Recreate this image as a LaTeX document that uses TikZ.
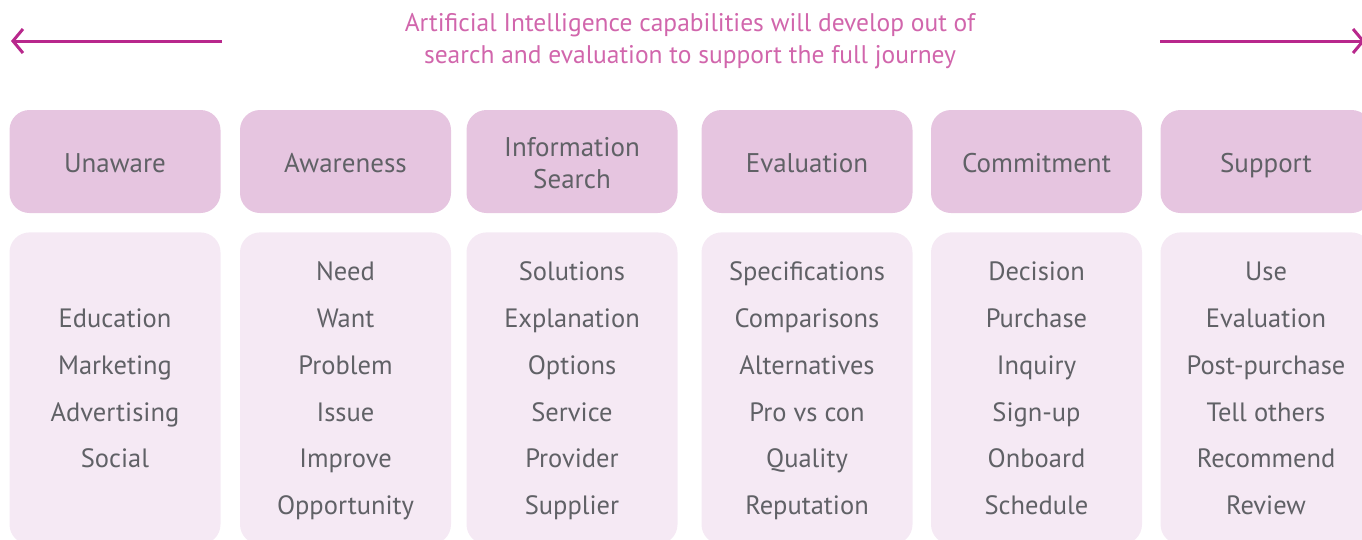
\documentclass[tikz,border=0pt]{standalone}
\usepackage{fontspec}
\setmainfont{PT Sans}
\usetikzlibrary{positioning}
\usetikzlibrary{arrows.meta}
\definecolor{aiarrow}{HTML}{B8288C}
\definecolor{aicaption}{HTML}{D166AC}
\definecolor{headfill}{HTML}{E6C5E0}
\definecolor{bodyfill}{HTML}{F5E9F4}
\definecolor{stagegray}{HTML}{606166}
\newcommand{\stagetitle}[1]{\raisebox{0pt}[\dimexpr\height+9pt\relax][\depth]{\begin{tabular}{@{}c@{}}#1\end{tabular}}}
\newcommand{\stagelist}[1]{\begin{tabular}{@{}c@{}}#1\end{tabular}}
\tikzset{
	stagehead/.style={fill=headfill, rounded corners=20pt, minimum width=211pt, minimum height=103pt,
		text=stagegray, font=\fontsize{27}{32}\selectfont},
	stagebody/.style={fill=bodyfill, rounded corners=20pt, minimum width=211pt, minimum height=312pt,
		text=stagegray, font=\fontsize{26.5}{46.8}\selectfont},
	journey/.style={draw=aiarrow, line width=3pt, -{Straight Barb[length=10pt,width=24pt,line width=3pt]}},
}

\begin{document}
\begin{tikzpicture}[x=1pt, y=-1pt]
		\useasboundingbox (0,0) rectangle (1362,539);
		\node[text=aicaption, align=center, font=\fontsize{25.5}{32}\selectfont] (caption) at (690,41)
			{Artificial Intelligence capabilities will develop out of\\search and evaluation to support the full journey};
		\coordinate (leftstart) at (222,41);
		\coordinate (leftend) at (11,41);
		\coordinate (rightstart) at (1160,41);
		\coordinate (rightend) at (1365,41);
		\draw[journey] (leftstart) -- (leftend);
		\draw[journey] (rightstart) -- (rightend);

		\node[stagehead] (unaware) at (115,161.5) {\stagetitle{Unaware}};
		\node[stagehead] (awareness) at (345.5,161.5) {\stagetitle{Awareness}};
		\node[stagehead] (search) at (572,161.5) {\stagetitle{Information\\Search}};
		\node[stagehead] (evaluation) at (807,161.5) {\stagetitle{Evaluation}};
		\node[stagehead] (commitment) at (1036.5,161.5) {\stagetitle{Commitment}};
		\node[stagehead] (support) at (1266,161.5) {\stagetitle{Support}};

		\node[stagebody, below=19pt of unaware] (unawarelist) {\stagelist{Education\\Marketing\\Advertising\\Social}};
		\node[stagebody, below=19pt of awareness] (awarenesslist) {\stagelist{Need\\Want\\Problem\\Issue\\Improve\\Opportunity}};
		\node[stagebody, below=19pt of search] (searchlist) {\stagelist{Solutions\\Explanation\\Options\\Service\\Provider\\Supplier}};
		\node[stagebody, below=19pt of evaluation] (evaluationlist) {\stagelist{Specifications\\Comparisons\\Alternatives\\Pro vs con\\Quality\\Reputation}};
		\node[stagebody, below=19pt of commitment] (commitmentlist) {\stagelist{Decision\\Purchase\\Inquiry\\Sign-up\\Onboard\\Schedule}};
		\node[stagebody, below=19pt of support] (supportlist) {\stagelist{Use\\Evaluation\\Post-purchase\\Tell others\\Recommend\\Review}};
	\end{tikzpicture}
\end{document}
